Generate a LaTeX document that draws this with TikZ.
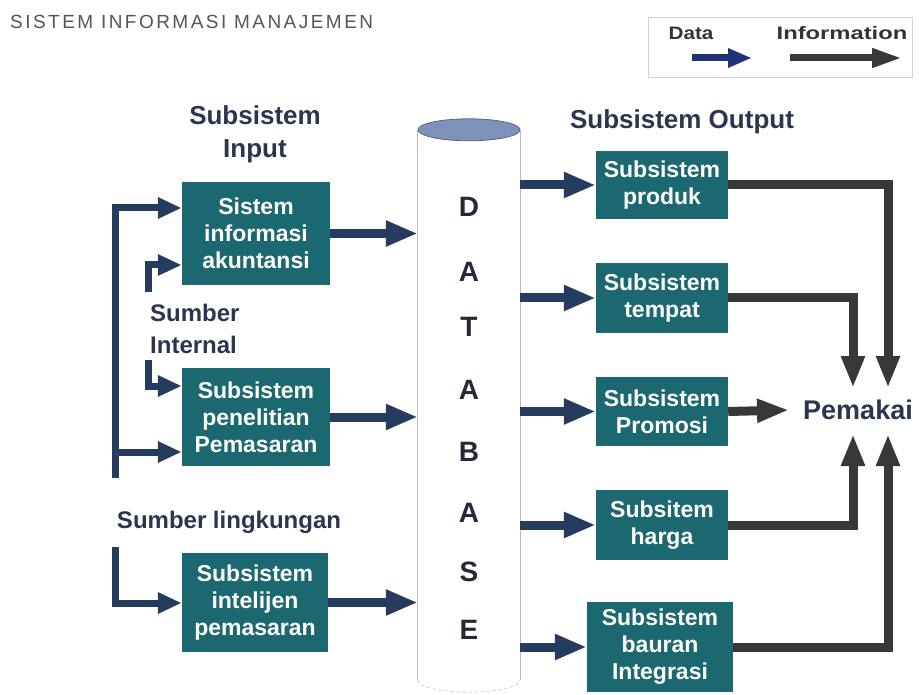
\documentclass[tikz,border=0pt]{standalone}
\usepackage{fontspec}
\setmainfont{Liberation Sans}
\usetikzlibrary{arrows.meta,calc}
\definecolor{boxteal}{RGB}{28,104,112}
\definecolor{datablue}{RGB}{38,60,94}
\definecolor{infogray}{RGB}{56,56,56}
\definecolor{headtxt}{RGB}{45,52,80}
\definecolor{dbtop}{RGB}{125,145,185}
\definecolor{dbtxt}{RGB}{36,40,56}
\definecolor{titlegray}{RGB}{85,85,85}
\tikzset{
  sysbox/.style={fill=boxteal, text=white, font=\bfseries\fontsize{23}{27}\selectfont,
    align=center, inner sep=0pt},
  heading/.style={text=headtxt, font=\bfseries\fontsize{26}{33}\selectfont, align=center, inner sep=0pt},
  dbletter/.style={text=dbtxt, font=\bfseries\fontsize{28}{30}\selectfont, inner sep=0pt},
  dataarrow/.style={draw=datablue, line width=9pt, line join=miter,
    -{Triangle[length=32pt,width=24pt]}},
  feedarrow/.style={draw=datablue, line width=7pt, line join=miter,
    -{Triangle[length=24pt,width=20pt]}},
  infoarrow/.style={draw=infogray, line width=9pt, line join=miter,
    -{Triangle[length=32pt,width=22pt]}},
}
\begin{document}
\begin{tikzpicture}[x=1pt,y=-1pt]
\useasboundingbox (0,0) rectangle (919,695);

% title
\node[anchor=west, text=titlegray, inner sep=0pt] (title) at (10,22)
  {\fontsize{19}{21}\selectfont\addfontfeatures{LetterSpace=13}SISTEM INFORMASI MANAJEMEN};

% legend
\draw[gray!35, line width=1pt] (648,18) rectangle (912,78);
\node[text=black!80, font=\bfseries\fontsize{18}{20}\selectfont, inner sep=0pt] (lgdata) at (691,33) {\scalebox{1.15}[1]{Data}};
\node[text=black!80, font=\bfseries\fontsize{18}{20}\selectfont, inner sep=0pt] (lginfo) at (842,33) {\scalebox{1.32}[1]{Information}};
\coordinate (lda) at (692,58); \coordinate (ldb) at (752,58);
\coordinate (lia) at (790,58); \coordinate (lib) at (902,58);
\draw[draw=datablue!85!blue, line width=7pt, -{Triangle[length=24pt,width=18pt]}] (lda) -- (ldb);
\draw[draw=infogray, line width=7pt, -{Triangle[length=30pt,width=18pt]}] (lia) -- (lib);

% headings
\node[heading] (hin) at (255,134) {Subsistem\\Input};
\node[heading] (hout) at (682,122) {Subsistem Output};
\node[heading, anchor=west, align=left, font=\bfseries\fontsize{24}{32}\selectfont] (hint) at (150,329) {Sumber\\Internal};
\node[heading, font=\bfseries\fontsize{24}{30}\selectfont] (hling) at (229,522) {Sumber lingkungan};
\node[heading, font=\bfseries\fontsize{27}{30}\selectfont] (pemakai) at (858,410) {Pemakai};

% input subsystems
\node[sysbox, minimum width=148pt, minimum height=103pt] (in1) at (256,233.5) {Sistem\\informasi\\akuntansi};
\node[sysbox, minimum width=148pt, minimum height=98pt] (in2) at (256,417) {Subsistem\\penelitian\\Pemasaran};
\node[sysbox, minimum width=146pt, minimum height=99pt] (in3) at (255,602.5) {Subsistem\\intelijen\\pemasaran};

% output subsystems
\node[sysbox, minimum width=132pt, minimum height=68pt] (out1) at (662,185) {Subsistem\\produk};
\node[sysbox, minimum width=132pt, minimum height=70pt] (out2) at (662,298) {Subsistem\\tempat};
\node[sysbox, minimum width=132pt, minimum height=69pt] (out3) at (662,411.5) {Subsistem\\Promosi};
\node[sysbox, minimum width=132pt, minimum height=70pt] (out4) at (662,525) {Subsitem\\harga};
\node[sysbox, minimum width=146pt, minimum height=90pt] (out5) at (660,647) {Subsistem\\bauran\\Integrasi};

% database cylinder
\node[minimum width=102pt, minimum height=550pt, inner sep=0pt] (db) at (469,405) {};
\draw[gray!55, line width=0.8pt] (db.north west) -- (db.south west);
\draw[gray!55, line width=0.8pt] (db.north east) -- (db.south east);
\draw[gray!40, line width=0.8pt, dashed] (db.south west) arc[start angle=180, end angle=360, x radius=51, y radius=-12];
\draw[fill=dbtop, draw=dbtop!70!black, line width=0.8pt] (db.north) ellipse[x radius=51, y radius=11];
\foreach \ch/\yy [count=\i] in {D/207,A/272,T/327,A/390,B/452,A/513,S/572,E/630}
  \node[dbletter] (dbl\i) at (469,\yy) {\ch};

% data into the database
\draw[dataarrow] (in1.east) -- (in1.east -| db.west);
\draw[dataarrow] (in2.east) -- (in2.east -| db.west);
\draw[dataarrow] (in3.east) -- (in3.east -| db.west);

% data out of the database
\foreach \o in {out1,out2,out3,out4,out5}
  \draw[dataarrow] (db.east |- \o.west) -- (\o.west);

% sources feeding the input subsystems
\coordinate (bartop) at (115,208);
\coordinate (barbot) at (115,478);
\coordinate (barmid) at (115,452);
\draw[feedarrow] (barbot) -- (bartop) -- (bartop -| in1.west);
\draw[feedarrow] (barmid) -- (barmid -| in2.west);
\coordinate (s1a) at (148,292); \coordinate (s1b) at (148,265);
\draw[feedarrow] (s1a) -- (s1b) -- (s1b -| in1.west);
\coordinate (s2a) at (148,360); \coordinate (s2b) at (148,386);
\draw[feedarrow] (s2a) -- (s2b) -- (s2b -| in2.west);
\coordinate (s3a) at (115,547); \coordinate (s3b) at (115,603);
\draw[feedarrow] (s3a) -- (s3b) -- (s3b -| in3.west);

% information to the user
\coordinate (pLtop) at (853,388);
\coordinate (pRtop) at (888,388);
\coordinate (pLbot) at (853,434);
\coordinate (pRbot) at (888,434);
\draw[infoarrow] (out1.east) -| (pRtop);
\draw[infoarrow] (out2.east) -| (pLtop);
\draw[infoarrow] (out3.east) -- ($(pemakai.west)+(-14,0)$);
\draw[infoarrow] (out4.east) -| (pLbot);
\draw[infoarrow] (out5.east) -| (pRbot);
\end{tikzpicture}
\end{document}
